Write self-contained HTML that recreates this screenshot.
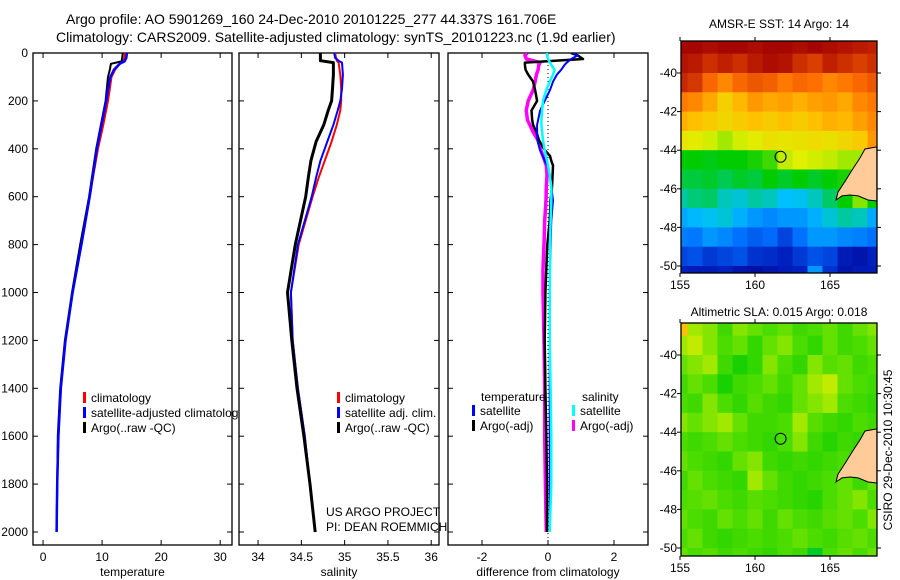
<!DOCTYPE html>
<html><head><meta charset="utf-8"><style>
html,body{margin:0;padding:0;background:#fff}
svg{display:block;font-family:"Liberation Sans",sans-serif}
</style></head><body>
<svg id="fig" width="900" height="580" viewBox="0 0 900 580" xmlns="http://www.w3.org/2000/svg">
<defs>
<clipPath id="c1"><rect x="33" y="53" width="199" height="492"/></clipPath>
<clipPath id="c2"><rect x="239" y="53" width="200" height="492"/></clipPath>
<clipPath id="c3"><rect x="448" y="53" width="200" height="492"/></clipPath>
<clipPath id="cm1"><rect x="681" y="41" width="196" height="232"/></clipPath>
<clipPath id="cm2"><rect x="681" y="323" width="196" height="233"/></clipPath>
<clipPath id="cl1"><rect x="33" y="53" width="206" height="492"/></clipPath>
</defs>
<text x="66" y="24" font-size="14">Argo profile: AO 5901269_160 24-Dec-2010 20101225_277 44.337S 161.706E</text>
<text x="56" y="42" font-size="14">Climatology: CARS2009. Satellite-adjusted climatology: synTS_20101223.nc (1.9d earlier)</text>
<text x="779" y="28" font-size="12" text-anchor="middle">AMSR-E SST: 14 Argo: 14</text>
<text x="779" y="316" font-size="12" text-anchor="middle">Altimetric SLA: 0.015 Argo: 0.018</text>
<text transform="translate(892,450) rotate(-90)" font-size="12" text-anchor="middle">CSIRO 29-Dec-2010 10:30:45</text>
<g id="layer"></g>
</svg>
<script>
// ---------- data ----------
const depthTicks = [0,200,400,600,800,1000,1200,1400,1600,1800,2000];
const tempTicks = [0,10,20,30];
const salTicks = [34,34.5,35,35.5,36];
const salTickLabels = ["34","34.5","35","35.5","36"];
const diffTicks = [-2,0,2];

const tDepth = [0,20,35,45,70,100,150,200,300,400,500,600,800,1000,1200,1400,1600,1800,2000];
const tClim  = [13.9,13.8,13.5,13.0,12.2,11.6,11.3,11.0,10.2,9.3,8.6,7.9,6.5,5.0,3.8,3.0,2.6,2.4,2.3];
const tSat   = [14.2,14.1,13.8,13.0,12.0,11.4,11.0,10.7,9.9,9.1,8.5,7.9,6.5,5.0,3.8,3.0,2.6,2.4,2.3];
const tArgo  = [13.5,13.4,13.3,11.5,11.3,11.0,10.8,10.6,9.8,9.0,8.4,7.8,6.3,4.9,3.7,2.9,2.5,2.4,2.3];

const sDepth = [0,20,32,40,90,150,200,240,300,370,450,520,600,800,1000,1200,1400,1600,1800,2000];
const sClim  = [34.89,34.90,34.91,34.93,34.95,34.96,34.96,34.95,34.91,34.85,34.77,34.70,34.63,34.47,34.38,34.40,34.46,34.54,34.60,34.66];
const sSat   = [34.88,34.89,34.93,34.97,34.98,34.97,34.95,34.92,34.87,34.80,34.72,34.67,34.62,34.46,34.38,34.40,34.46,34.54,34.60,34.66];
const sArgo  = [34.72,34.72,34.72,34.87,34.87,34.86,34.85,34.81,34.76,34.67,34.61,34.58,34.55,34.43,34.34,34.39,34.45,34.53,34.60,34.66];

const dDepth = [0,10,25,40,50,70,90,120,155,200,240,280,300,330,365,405,430,450,470,510,560,615,700,800,900,1000,1200,1400,1600,1800,2000];
const dTSat  = [0.76,0.9,0.7,0.57,0.5,0.4,0.27,0.15,0.06,-0.1,-0.24,-0.3,-0.33,-0.33,-0.32,-0.24,-0.16,-0.1,-0.02,0.06,0.1,0.15,0.1,0.08,0.06,0.05,0.05,0.05,0.05,0.05,0.05];
const dTArgo = [0.7,0.9,1.06,-0.7,-0.7,-0.68,-0.6,-0.45,-0.39,-0.33,-0.5,-0.48,-0.45,-0.35,-0.27,-0.1,0.06,0.1,0.15,0.14,0.12,0.08,0.05,-0.02,-0.05,-0.08,-0.1,-0.08,-0.05,-0.03,-0.03];
const dSSat  = [-0.03,-0.03,0.0,0.06,0.1,0.2,0.15,0.05,-0.05,-0.15,-0.18,-0.2,-0.2,-0.18,-0.15,-0.1,-0.06,-0.03,0,0.05,0.1,0.1,0.08,0.06,0.06,0.05,0.05,0.08,0.1,0.1,0.05];
const dSArgo = [-0.63,-0.7,-0.65,-0.24,-0.28,-0.3,-0.35,-0.39,-0.45,-0.6,-0.66,-0.62,-0.55,-0.45,-0.3,-0.22,-0.15,-0.1,-0.05,-0.03,-0.05,-0.06,-0.1,-0.12,-0.15,-0.15,-0.12,-0.1,-0.1,-0.08,-0.05];

const lonTicks = [155,160,165];
const latTicks = [-40,-42,-44,-46,-48,-50];
const argoLon = 161.706, argoLat = -44.337;
const sstGrid = [
 [0.99,0.99,0.98,0.99,0.99,0.98,0.99,0.99,0.98,0.99,0.98,0.97,0.96,0.95],
 [0.97,0.96,0.93,0.95,0.93,0.96,0.98,0.97,0.93,0.91,0.95,0.93,0.91,0.93],
 [0.94,0.92,0.86,0.82,0.86,0.88,0.87,0.84,0.86,0.85,0.82,0.84,0.86,0.88],
 [0.84,0.82,0.78,0.72,0.76,0.8,0.78,0.79,0.77,0.79,0.8,0.78,0.82,0.84],
 [0.77,0.75,0.73,0.71,0.73,0.75,0.73,0.75,0.73,0.75,0.77,0.76,0.79,0.82],
 [0.68,0.67,0.65,0.62,0.65,0.67,0.69,0.68,0.69,0.7,0.69,0.71,0.73,0.8],
 [0.5,0.5,0.49,0.5,0.5,0.52,0.55,0.64,0.66,0.65,0.64,0.62,0.62,0.57],
 [0.47,0.47,0.48,0.46,0.48,0.47,0.5,0.48,0.5,0.48,0.5,0.52,0.5,0.5],
 [0.42,0.44,0.45,0.4,0.38,0.42,0.4,0.35,0.36,0.4,0.45,0.5,0.6,0.5],
 [0.32,0.34,0.36,0.38,0.33,0.3,0.28,0.3,0.3,0.33,0.38,0.42,0.4,0.32],
 [0.27,0.26,0.3,0.28,0.25,0.22,0.24,0.18,0.25,0.3,0.3,0.28,0.27,0.25],
 [0.18,0.2,0.16,0.18,0.2,0.15,0.14,0.12,0.16,0.2,0.18,0.1,0.08,0.12],
 [0.12,0.1,0.1,0.12,0.08,0.06,0.08,0.1,0.12,0.3,0.15,0.08,0.1,0.1]
];
const slaGrid = [
 [0.75,0.62,0.6,0.55,0.6,0.58,0.56,0.58,0.55,0.56,0.58,0.55,0.58,0.6],
 [0.62,0.64,0.6,0.56,0.58,0.54,0.58,0.6,0.56,0.54,0.58,0.55,0.56,0.58],
 [0.58,0.6,0.62,0.55,0.52,0.54,0.6,0.56,0.54,0.6,0.57,0.58,0.55,0.56],
 [0.55,0.58,0.56,0.52,0.55,0.56,0.58,0.55,0.58,0.62,0.64,0.58,0.56,0.55],
 [0.56,0.55,0.6,0.56,0.54,0.57,0.55,0.54,0.58,0.6,0.62,0.56,0.55,0.54],
 [0.6,0.58,0.6,0.62,0.58,0.55,0.55,0.56,0.62,0.57,0.55,0.54,0.56,0.55],
 [0.56,0.55,0.56,0.58,0.56,0.55,0.54,0.56,0.6,0.55,0.53,0.55,0.54,0.55],
 [0.58,0.56,0.55,0.54,0.58,0.6,0.55,0.54,0.55,0.54,0.55,0.56,0.55,0.56],
 [0.55,0.58,0.56,0.55,0.54,0.62,0.58,0.55,0.54,0.55,0.56,0.58,0.55,0.58],
 [0.56,0.57,0.58,0.56,0.55,0.57,0.56,0.55,0.54,0.53,0.56,0.58,0.6,0.56],
 [0.58,0.56,0.55,0.58,0.56,0.58,0.55,0.58,0.56,0.55,0.57,0.58,0.56,0.6],
 [0.56,0.58,0.55,0.54,0.55,0.56,0.55,0.56,0.58,0.56,0.55,0.57,0.58,0.56],
 [0.58,0.56,0.57,0.55,0.56,0.55,0.54,0.56,0.55,0.48,0.56,0.58,0.56,0.58]
];
const landLon = [168.13,167.33,167.0,166.47,166.07,165.53,165.4,165.8,166.33,166.87,167.53,168.13];
const landLat = [-43.83,-43.94,-44.4,-45.03,-45.54,-46.17,-46.58,-46.37,-46.32,-46.37,-46.58,-46.63];

// ---------- helpers ----------
const NS="http://www.w3.org/2000/svg";
const layer=document.getElementById('layer');
function mk(tag,attrs,parent){const e=document.createElementNS(NS,tag);for(const k in attrs)e.setAttribute(k,attrs[k]);(parent||layer).appendChild(e);return e;}
const FT=53, FB=545;
function yDepth(d){return 53+d*(532-53)/2000;}
const panels=[
 {x0:33,x1:232,vmin:-1.7,vmax:32,clip:'c1',ticks:tempTicks,labels:tempTicks.map(String),xlabel:'temperature',name:'temperature'},
 {x0:239,x1:439,vmin:33.78,vmax:36.09,clip:'c2',ticks:salTicks,labels:salTickLabels,xlabel:'salinity',name:'salinity'},
 {x0:448,x1:648,vmin:-3.03,vmax:3.03,clip:'c3',ticks:diffTicks,labels:diffTicks.map(String),xlabel:'difference from climatology',name:'difference'}
];
function sx(p,v){return p.x0+(v-p.vmin)/(p.vmax-p.vmin)*(p.x1-p.x0);}

panels.forEach((p,i)=>{
  const g=mk('g',{});
  
  
  const fr=mk('rect',{x:p.x0,y:FT,width:p.x1-p.x0,height:FB-FT,fill:'none',stroke:'#000','stroke-width':1.3},g);
  
  
  p.ticks.forEach((t,k)=>{
    const x=sx(p,t);
    mk('line',{x1:x,y1:FT,x2:x,y2:FT+5,stroke:'#000'},g);
    mk('line',{x1:x,y1:FB,x2:x,y2:FB-5,stroke:'#000'},g);
    const tl=mk('text',{x:x,y:561,'font-size':12,'text-anchor':'middle'},g);
    tl.textContent=p.labels[k];
    
    
  });
  depthTicks.forEach(d=>{
    const y=yDepth(d);
    mk('line',{x1:p.x0,y1:y,x2:p.x0+5,y2:y,stroke:'#000'},g);
    mk('line',{x1:p.x1,y1:y,x2:p.x1-5,y2:y,stroke:'#000'},g);
    if(i===0){
      const tl=mk('text',{x:28,y:y+4,'font-size':12,'text-anchor':'end'},g);
      tl.textContent=String(d);
      
      
    }
  });
  const xl=mk('text',{x:(p.x0+p.x1)/2,y:576,'font-size':12,'text-anchor':'middle'},g);
  xl.textContent=p.xlabel;
  
  
});

function series(p,vals,depths,color,w,name){
  const pts=vals.map((v,k)=>sx(p,v).toFixed(1)+','+yDepth(depths[k]).toFixed(1)).join(' ');
  const pl=mk('polyline',{points:pts,fill:'none',stroke:color,'stroke-width':w,'clip-path':'url(#'+p.clip+')','stroke-linejoin':'round'});
  
  
}
const zl=mk('line',{x1:sx(panels[2],0),y1:FT,x2:sx(panels[2],0),y2:FB,stroke:'#000','stroke-dasharray':'1,3'});



series(panels[0],tClim,tDepth,'#f00',2,'temperature-climatology-line');
series(panels[0],tArgo,tDepth,'#000',2,'temperature-argo-line');
series(panels[0],tSat,tDepth,'#00f',2.5,'temperature-satellite-line');
series(panels[1],sClim,sDepth,'#f00',2,'salinity-climatology-line');
series(panels[1],sSat,sDepth,'#00f',2,'salinity-satellite-line');
series(panels[1],sArgo,sDepth,'#000',3,'salinity-argo-line');
series(panels[2],dSArgo,dDepth,'#f0f',3.5,'salinity-argo-diff-line');
series(panels[2],dTArgo,dDepth,'#000',2.5,'temperature-argo-diff-line');
series(panels[2],dTSat,dDepth,'#00f',2,'temperature-satellite-diff-line');
series(panels[2],dSSat,dDepth,'#0ff',2.5,'salinity-satellite-diff-line');

function legendEntry(x,y,color,label,clip){
  const g=mk('g',clip?{'clip-path':'url(#'+clip+')'}:{});
  
  
  if(color) mk('rect',{x:x,y:y-10,width:3,height:11,fill:color},g);
  const t=mk('text',{x:x+8,y:y,'font-size':12},g);
  t.textContent=label;
}
legendEntry(83,402,'#f00','climatology');
legendEntry(83,417,'#00f','satellite-adjusted climatology','cl1');
legendEntry(83,432,'#000','Argo(..raw -QC)');
legendEntry(337,402,'#f00','climatology');
legendEntry(337,417,'#00f','satellite adj. clim.');
legendEntry(337,432,'#000','Argo(..raw -QC)');
legendEntry(473,401,null,'temperature');
legendEntry(472,415,'#00f','satellite');
legendEntry(472,430,'#000','Argo(-adj)');
legendEntry(574,401,null,'salinity');
legendEntry(572,415,'#0ff','satellite');
legendEntry(572,430,'#f0f','Argo(-adj)');
const pr1=mk('text',{x:326,y:516,'font-size':12});pr1.textContent='US ARGO PROJECT';


const pr2=mk('text',{x:326,y:531,'font-size':12});pr2.textContent='PI: DEAN ROEMMICH';



// ---------- maps ----------
const cstops=[[0,[0,0,130]],[0.12,[0,32,192]],[0.25,[0,112,255]],[0.35,[0,192,255]],[0.42,[0,200,160]],[0.5,[0,204,0]],[0.58,[100,225,0]],[0.66,[224,240,0]],[0.75,[255,192,0]],[0.85,[255,112,0]],[0.95,[192,32,0]],[1,[160,0,0]]];
function cmap(v){
  for(let i=1;i<cstops.length;i++){
    if(v<=cstops[i][0]){const a=cstops[i-1],b=cstops[i];const t=(v-a[0])/(b[0]-a[0]);
      const c=a[1].map((q,k)=>Math.round(q+(b[1][k]-q)*t));return 'rgb('+c.join(',')+')';}
  }
  return 'rgb(160,0,0)';
}
const maps=[
 {x0:681,x1:877,top:41,bot:273,lat40:73,clip:'cm1',grid:sstGrid,name:'sst-map'},
 {x0:681,x1:877,top:323,bot:556,lat40:355,clip:'cm2',grid:slaGrid,name:'sla-map'}
];
const pxLon=15, pxLat=19.3;
maps.forEach(m=>{
  const mx=lon=>755+(lon-160)*pxLon;
  const my=lat=>m.lat40+(-40-lat)*pxLat;
  const g=mk('g',{'clip-path':'url(#'+m.clip+')'});
  
  
  m.grid.forEach((row,r)=>{
    row.forEach((v,c)=>{
      const lat=-38-r, lon=154.5+c;
      const cell=mk('rect',{x:mx(lon).toFixed(1),y:my(lat).toFixed(1),width:pxLon+0.6,height:pxLat+0.6,fill:cmap(v)},g);
      
      
    });
  });
  const land=mk('polygon',{points:landLon.map((lo,k)=>mx(lo).toFixed(1)+','+my(landLat[k]).toFixed(1)).join(' '),fill:'#ffcc99',stroke:'#000','stroke-width':1},g);
  
  
  const circ=mk('circle',{cx:mx(argoLon),cy:my(argoLat),r:5.5,fill:'none',stroke:'#000','stroke-width':1});
  
  
  const fr=mk('rect',{x:m.x0,y:m.top,width:m.x1-m.x0,height:m.bot-m.top,fill:'none',stroke:'#000','stroke-width':1.3});
  
  
  lonTicks.forEach(lo=>{
    const x=mx(lo);
    mk('line',{x1:x,y1:m.top,x2:x,y2:m.top-4,stroke:'#000'});
    mk('line',{x1:x,y1:m.bot,x2:x,y2:m.bot+4,stroke:'#000'});
    const t=mk('text',{x:x,y:m.bot+16,'font-size':12,'text-anchor':'middle'});t.textContent=String(lo);
    
    
  });
  latTicks.forEach(la=>{
    const y=my(la);
    mk('line',{x1:m.x0,y1:y,x2:m.x0-4,y2:y,stroke:'#000'});
    mk('line',{x1:m.x1,y1:y,x2:m.x1+4,y2:y,stroke:'#000'});
    const t=mk('text',{x:m.x0-4,y:y+4,'font-size':12,'text-anchor':'end'});t.textContent=String(la);
    
    
  });
});
</script>
</body></html>
